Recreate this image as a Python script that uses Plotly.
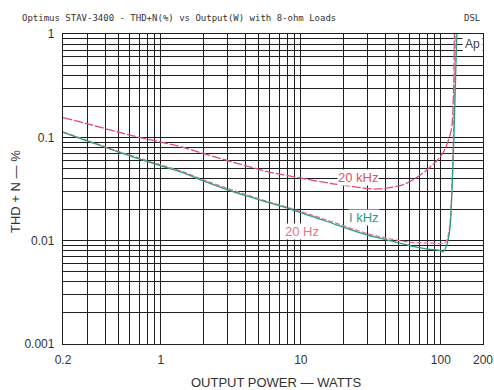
import math
import plotly.graph_objects as go

# values (output power in W, THD+N in %)
power_20k = [0.2, 0.3, 0.5, 0.7, 1, 1.4, 2, 3.67, 6, 9.4, 16, 25, 33, 45, 57, 79, 103, 115, 120, 123, 125]
thd_20k = [0.155, 0.135, 0.112, 0.1, 0.09, 0.081, 0.07, 0.055, 0.046, 0.041, 0.036, 0.033, 0.0316, 0.033,
           0.036, 0.048, 0.07, 0.1, 0.13, 0.25, 1.0]

power_1k = [0.2, 0.3, 0.5, 0.7, 1, 1.4, 2, 3, 5, 8.8, 15, 30, 45, 63, 80, 100, 104, 110, 116, 120, 124, 130]
thd_1k = [0.112, 0.092, 0.072, 0.062, 0.053, 0.046, 0.038, 0.031, 0.025, 0.0198, 0.0155, 0.0113, 0.0099,
          0.0088, 0.0083, 0.008, 0.0078, 0.009, 0.013, 0.03, 0.1, 1.0]

power_20 = [0.2, 0.3, 0.5, 0.7, 1, 1.4, 2, 3, 5, 8.8, 15, 30, 45, 63, 80, 100, 108, 114, 119, 123, 127]
thd_20 = [0.113, 0.093, 0.073, 0.063, 0.054, 0.047, 0.039, 0.032, 0.0255, 0.0202, 0.016, 0.0117, 0.0103,
          0.0096, 0.0095, 0.0094, 0.0097, 0.012, 0.025, 0.1, 1.0]

x_ticks = [0.2, 1, 10, 100, 200]
x_ticktext = ["0.2", "1", "10", "100", "200"]
x_minor = [0.3, 0.4, 0.5, 0.6, 0.7, 0.8, 0.9, 2, 3, 4, 5, 6, 7, 8, 9, 20, 30, 40, 50, 60, 70, 80, 90]
y_ticks = [0.001, 0.01, 0.1, 1]
y_ticktext = ["0.001", "0.01", "0.1", "1"]
y_minor = [m * d for d in (0.001, 0.01, 0.1) for m in range(2, 10)]

RED = "#dc4f6c"
PINK = "#e27890"
TEAL = "#2a9c86"
GRID = "#1e1e1e"
SANS = "Liberation Sans, Arial, sans-serif"
MONO = "DejaVu Sans Mono, monospace"

# plot area in page pixels
L, R, T, B = 63, 483, 34, 344


def px(x, y):
    # page pixel -> paper coordinates of the plot area
    return (x - L) / (R - L), (B - y) / (B - T)


fig = go.Figure()
fig.add_trace(go.Scatter(x=power_20k, y=thd_20k, mode="lines",
                         line=dict(color=RED, width=1.3, dash="9px,2px"), line_shape="spline"))
fig.add_trace(go.Scatter(x=power_20, y=thd_20, mode="lines",
                         line=dict(color=PINK, width=1.3, dash="5px,2px"), line_shape="spline"))
fig.add_trace(go.Scatter(x=power_1k, y=thd_1k, mode="lines",
                         line=dict(color=TEAL, width=1.3), line_shape="spline"))

for txt, xv, yv, col in [("20 kHz", 25.5, 0.0413, RED), ("I kHz", 28.3, 0.0166, TEAL),
                         ("20 Hz", 10.2, 0.0124, PINK)]:
    fig.add_annotation(x=math.log10(xv), y=math.log10(yv), text=txt, showarrow=False,
                       font=dict(color=col, family=SANS, size=13), bgcolor="white", borderpad=0)

fig.add_annotation(x=1, y=1, xref="paper", yref="paper", xanchor="right", yanchor="top",
                   text="Ap", showarrow=False, bgcolor="white", borderpad=2,
                   font=dict(family=SANS, size=12, color="#444"))

hx, hy = px(20, 18)
fig.add_annotation(x=hx, y=hy, xref="paper", yref="paper", xanchor="left", yanchor="middle",
                   showarrow=False,
                   text="Optimus STAV-3400 - THD+N(%) vs Output(W) with 8-ohm Loads",
                   font=dict(family=MONO, size=9, color="#333"))
dx, dy = px(482, 18)
fig.add_annotation(x=dx, y=dy, xref="paper", yref="paper", xanchor="right", yanchor="middle",
                   showarrow=False, text="DSL", font=dict(family=MONO, size=9, color="#333"))

# axis titles
tx, ty = px(276, 382)
fig.add_annotation(x=tx, y=ty, xref="paper", yref="paper", xanchor="center", yanchor="middle",
                   showarrow=False, text="OUTPUT POWER — WATTS",
                   font=dict(family=SANS, size=13, color="#333"))
yx, yy = px(15, 192)
fig.add_annotation(x=yx, y=yy, xref="paper", yref="paper", xanchor="center", yanchor="middle",
                   showarrow=False, textangle=-90, text="THD + N — %",
                   font=dict(family=SANS, size=13, color="#333"))

fig.update_layout(
    width=494, height=390,
    margin=dict(l=L, r=494 - R, t=T, b=390 - B),
    paper_bgcolor="white", plot_bgcolor="white",
    showlegend=False,
    font=dict(family=SANS, size=12, color="#333"),
)

fig.update_xaxes(type="log", range=[math.log10(0.2), math.log10(200)], automargin=False,
                 tickvals=x_ticks, ticktext=x_ticktext, ticks="", ticklabelstandoff=4,
                 ticklabeloverflow="allow",
                 showgrid=True, gridcolor=GRID, gridwidth=1.3,
                 minor=dict(tickvals=x_minor, showgrid=True, gridcolor=GRID, gridwidth=1.3, ticks=""),
                 showline=True, linecolor=GRID, linewidth=1.3, mirror=True, zeroline=False)
fig.update_yaxes(type="log", range=[-3, 0], automargin=False,
                 tickvals=y_ticks, ticktext=y_ticktext, ticks="", ticklabelstandoff=5,
                 showgrid=True, gridcolor=GRID, gridwidth=1.3,
                 minor=dict(tickvals=y_minor, showgrid=True, gridcolor=GRID, gridwidth=1.3, ticks=""),
                 showline=True, linecolor=GRID, linewidth=1.3, mirror=True, zeroline=False)

fig.write_html("out.html", config={"displayModeBar": False},
               post_script="document.body.style.margin='0';")
